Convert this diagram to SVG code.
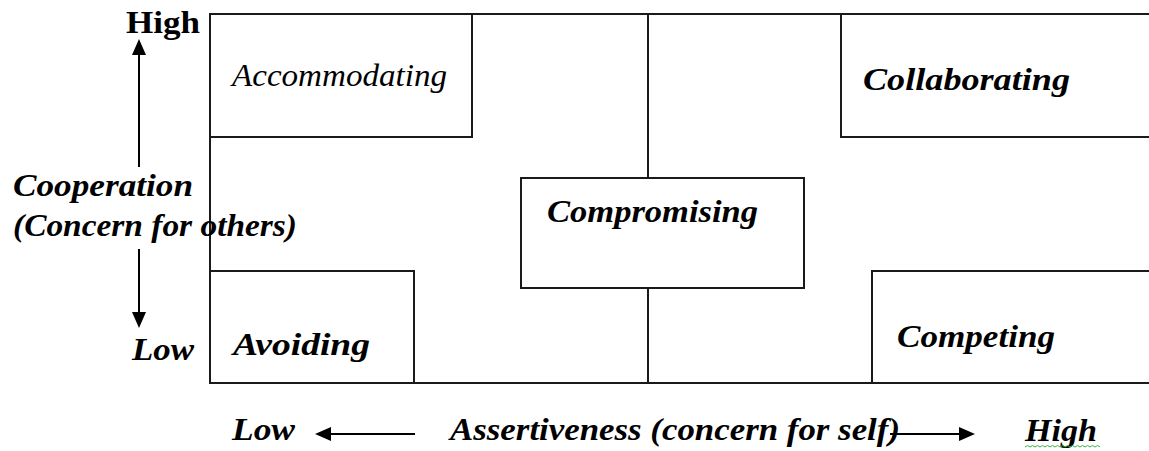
<svg xmlns="http://www.w3.org/2000/svg" width="1149" height="451" viewBox="0 0 1149 451">
<style>
.box{fill:#fff;stroke:#1a1a1a;stroke-width:2}
.ln{stroke:#1a1a1a;stroke-width:2;fill:none}
.ax{stroke:#000;stroke-width:2;fill:none}
text{font-family:"Liberation Serif","DejaVu Serif",serif;fill:#000}
.bi{font-style:italic;font-weight:bold;font-size:32px}
.it{font-style:italic;font-size:32px}
.bu{font-weight:bold;font-size:31px}
</style>
<defs>
<marker id="ah" markerUnits="userSpaceOnUse" markerWidth="16" markerHeight="14" refX="0" refY="7" orient="auto">
<path d="M0,0 L16,7 L0,14 z" fill="#000"/>
</marker>
</defs>
<rect width="1149" height="451" fill="#fff"/>
<g id="frame">
<path class="ln" d="M1149,14 H210 V383 H1149"/>
</g>
<g id="connectors">
<line class="ln" x1="648" y1="14" x2="648" y2="178"/>
<line class="ln" x1="648" y1="288" x2="648" y2="383"/>
<line class="ax" x1="139" y1="167" x2="139" y2="55" marker-end="url(#ah)"/>
<line class="ax" x1="139" y1="249" x2="139" y2="312" marker-end="url(#ah)"/>
<line class="ax" x1="415" y1="434" x2="331" y2="434" marker-end="url(#ah)"/>
<line class="ax" x1="890" y1="434" x2="959" y2="434" marker-end="url(#ah)"/>
</g>
<g id="accommodating">
<rect class="box" x="210" y="14" width="262" height="123"/>
<text class="it" x="232" y="86" textLength="215" lengthAdjust="spacingAndGlyphs">Accommodating</text>
</g>
<g id="collaborating">
<rect class="box" x="841" y="14" width="312" height="123"/>
<text class="bi" x="863" y="90" textLength="207" lengthAdjust="spacingAndGlyphs">Collaborating</text>
</g>
<g id="compromising">
<rect class="box" x="521" y="178" width="283" height="110"/>
<text class="bi" x="547" y="222" textLength="211" lengthAdjust="spacingAndGlyphs">Compromising</text>
</g>
<g id="avoiding">
<rect class="box" x="210" y="271" width="204" height="112"/>
<text class="bi" x="233" y="355" textLength="137" lengthAdjust="spacingAndGlyphs">Avoiding</text>
</g>
<g id="competing">
<rect class="box" x="872" y="271" width="281" height="112"/>
<text class="bi" x="897" y="347" textLength="158" lengthAdjust="spacingAndGlyphs">Competing</text>
</g>
<g id="axis-labels">
<text class="bu" x="126" y="33" textLength="74" lengthAdjust="spacingAndGlyphs">High</text>
<text class="bi" x="13" y="196" textLength="180" lengthAdjust="spacingAndGlyphs">Cooperation</text>
<text class="bi" x="13" y="236" textLength="284" lengthAdjust="spacingAndGlyphs">(Concern for others)</text>
<text class="bi" x="132" y="360" textLength="62" lengthAdjust="spacingAndGlyphs">Low</text>
<text class="bi" x="232" y="440" textLength="63" lengthAdjust="spacingAndGlyphs">Low</text>
<text class="bi" x="450" y="440" textLength="450" lengthAdjust="spacingAndGlyphs">Assertiveness (concern for self)</text>
<text class="bi" x="1025" y="441" textLength="72" lengthAdjust="spacingAndGlyphs">High</text>
<path d="M1025,447 l2.5,-1.5 l2.5,1.5 l2.5,-1.5 l2.5,1.5 l2.5,-1.5 l2.5,1.5 l2.5,-1.5 l2.5,1.5 l2.5,-1.5 l2.5,1.5 l2.5,-1.5 l2.5,1.5 l2.5,-1.5 l2.5,1.5 l2.5,-1.5 l2.5,1.5 l2.5,-1.5 l2.5,1.5 l2.5,-1.5 l2.5,1.5 l2.5,-1.5 l2.5,1.5 l2.5,-1.5 l2.5,1.5 l2.5,-1.5 l2.5,1.5 l2.5,-1.5 l2.5,1.5 l2.5,-1.5 l2.5,1.5" fill="none" stroke="#3cb043" stroke-width="1"/>
</g>
</svg>
